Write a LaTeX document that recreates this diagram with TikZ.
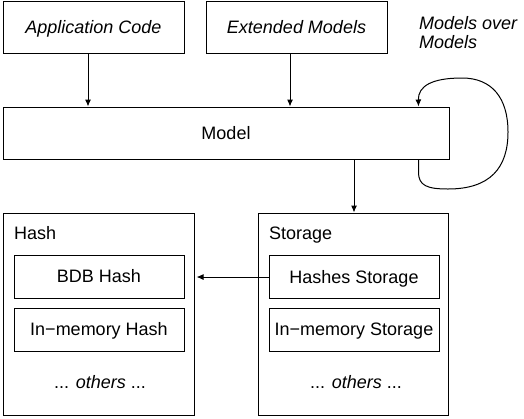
\documentclass[tikz,border=0pt]{standalone}
\usepackage{fontspec}
\setmainfont{Liberation Sans}
\usetikzlibrary{arrows.meta}

\begin{document}
\begin{tikzpicture}[x=1pt,y=-1pt,
	font=\fontsize{18}{19}\selectfont,
	box/.style={draw, line width=1pt, inner sep=0pt, text height=12.9pt, text depth=0pt},
	arr/.style={line width=1pt, -{Latex[length=7pt,width=6pt]}}]

	\useasboundingbox (0,0) rectangle (524,418);

	\node[box, minimum width=446pt, minimum height=52pt] (model) at (226,133) {Model};

	% loop back into the model
	\coordinate (loopa) at ([xshift=-31pt]model.south east);
	\coordinate (loopb) at ([xshift=-31pt]model.north east);
	\coordinate (loopc) at (448,189);
	\coordinate (loopd) at (508,132);
	\coordinate (loope) at (462,78);
	\draw[arr] (loopa) -- ++(0,12) .. controls (418,186) and (428,189) .. (loopc)
		.. controls (490,189) and (508,168) .. (loopd)
		.. controls (508,98) and (492,78) .. (loope)
		.. controls (432,78) and (418,86) .. (loopb);
	\node[anchor=base west, inner sep=0pt, align=left, font=\fontsize{18}{19}\selectfont\itshape] (loopl) at (419,48) {Models over\\Models};

	\node[box, minimum width=181pt, minimum height=52pt] (app) at (93.5,27) {\itshape Application Code};
	\node[box, minimum width=181pt, minimum height=52pt] (ext) at (296.5,27) {\itshape Extended Models};

	\node[box, minimum width=191pt, minimum height=202pt] (hash) at (98.5,314) {};
	\node[box, minimum width=190pt, minimum height=202pt] (storage) at (353,314) {};

	\node[box, minimum width=170pt, minimum height=43pt] (bdb) at (99,276.5) {BDB Hash};
	\node[box, minimum width=170pt, minimum height=43pt] (imhash) at (99,329.5) {In−memory Hash};
	\node[box, minimum width=170pt, minimum height=43pt] (hst) at (354,277) {Hashes Storage};
	\node[box, minimum width=170pt, minimum height=43pt] (imst) at (354,329.5) {In−memory Storage};

	\node[anchor=base west, inner sep=0pt] (hashlbl) at (14,239) {Hash};
	\node[anchor=base west, inner sep=0pt] (storagelbl) at (269,239) {Storage};
	\node[anchor=base, inner sep=0pt] (hashmore) at (100,388) {... \textit{others} ...};
	\node[anchor=base, inner sep=0pt] (storagemore) at (356,388) {... \textit{others} ...};

	% arrows
	\draw[arr] ([xshift=-5.5pt]app.south) -- ([xshift=-5.5pt]app.south |- model.north);
	\draw[arr] ([xshift=-6.5pt]ext.south) -- ([xshift=-6.5pt]ext.south |- model.north);
	\draw[arr] ([xshift=1pt]storage.north |- model.south) -- ([xshift=1pt]storage.north);
	\draw[arr, shorten >=2pt] (hst.west) -- (hst.west -| hash.east);

\end{tikzpicture}
\end{document}
